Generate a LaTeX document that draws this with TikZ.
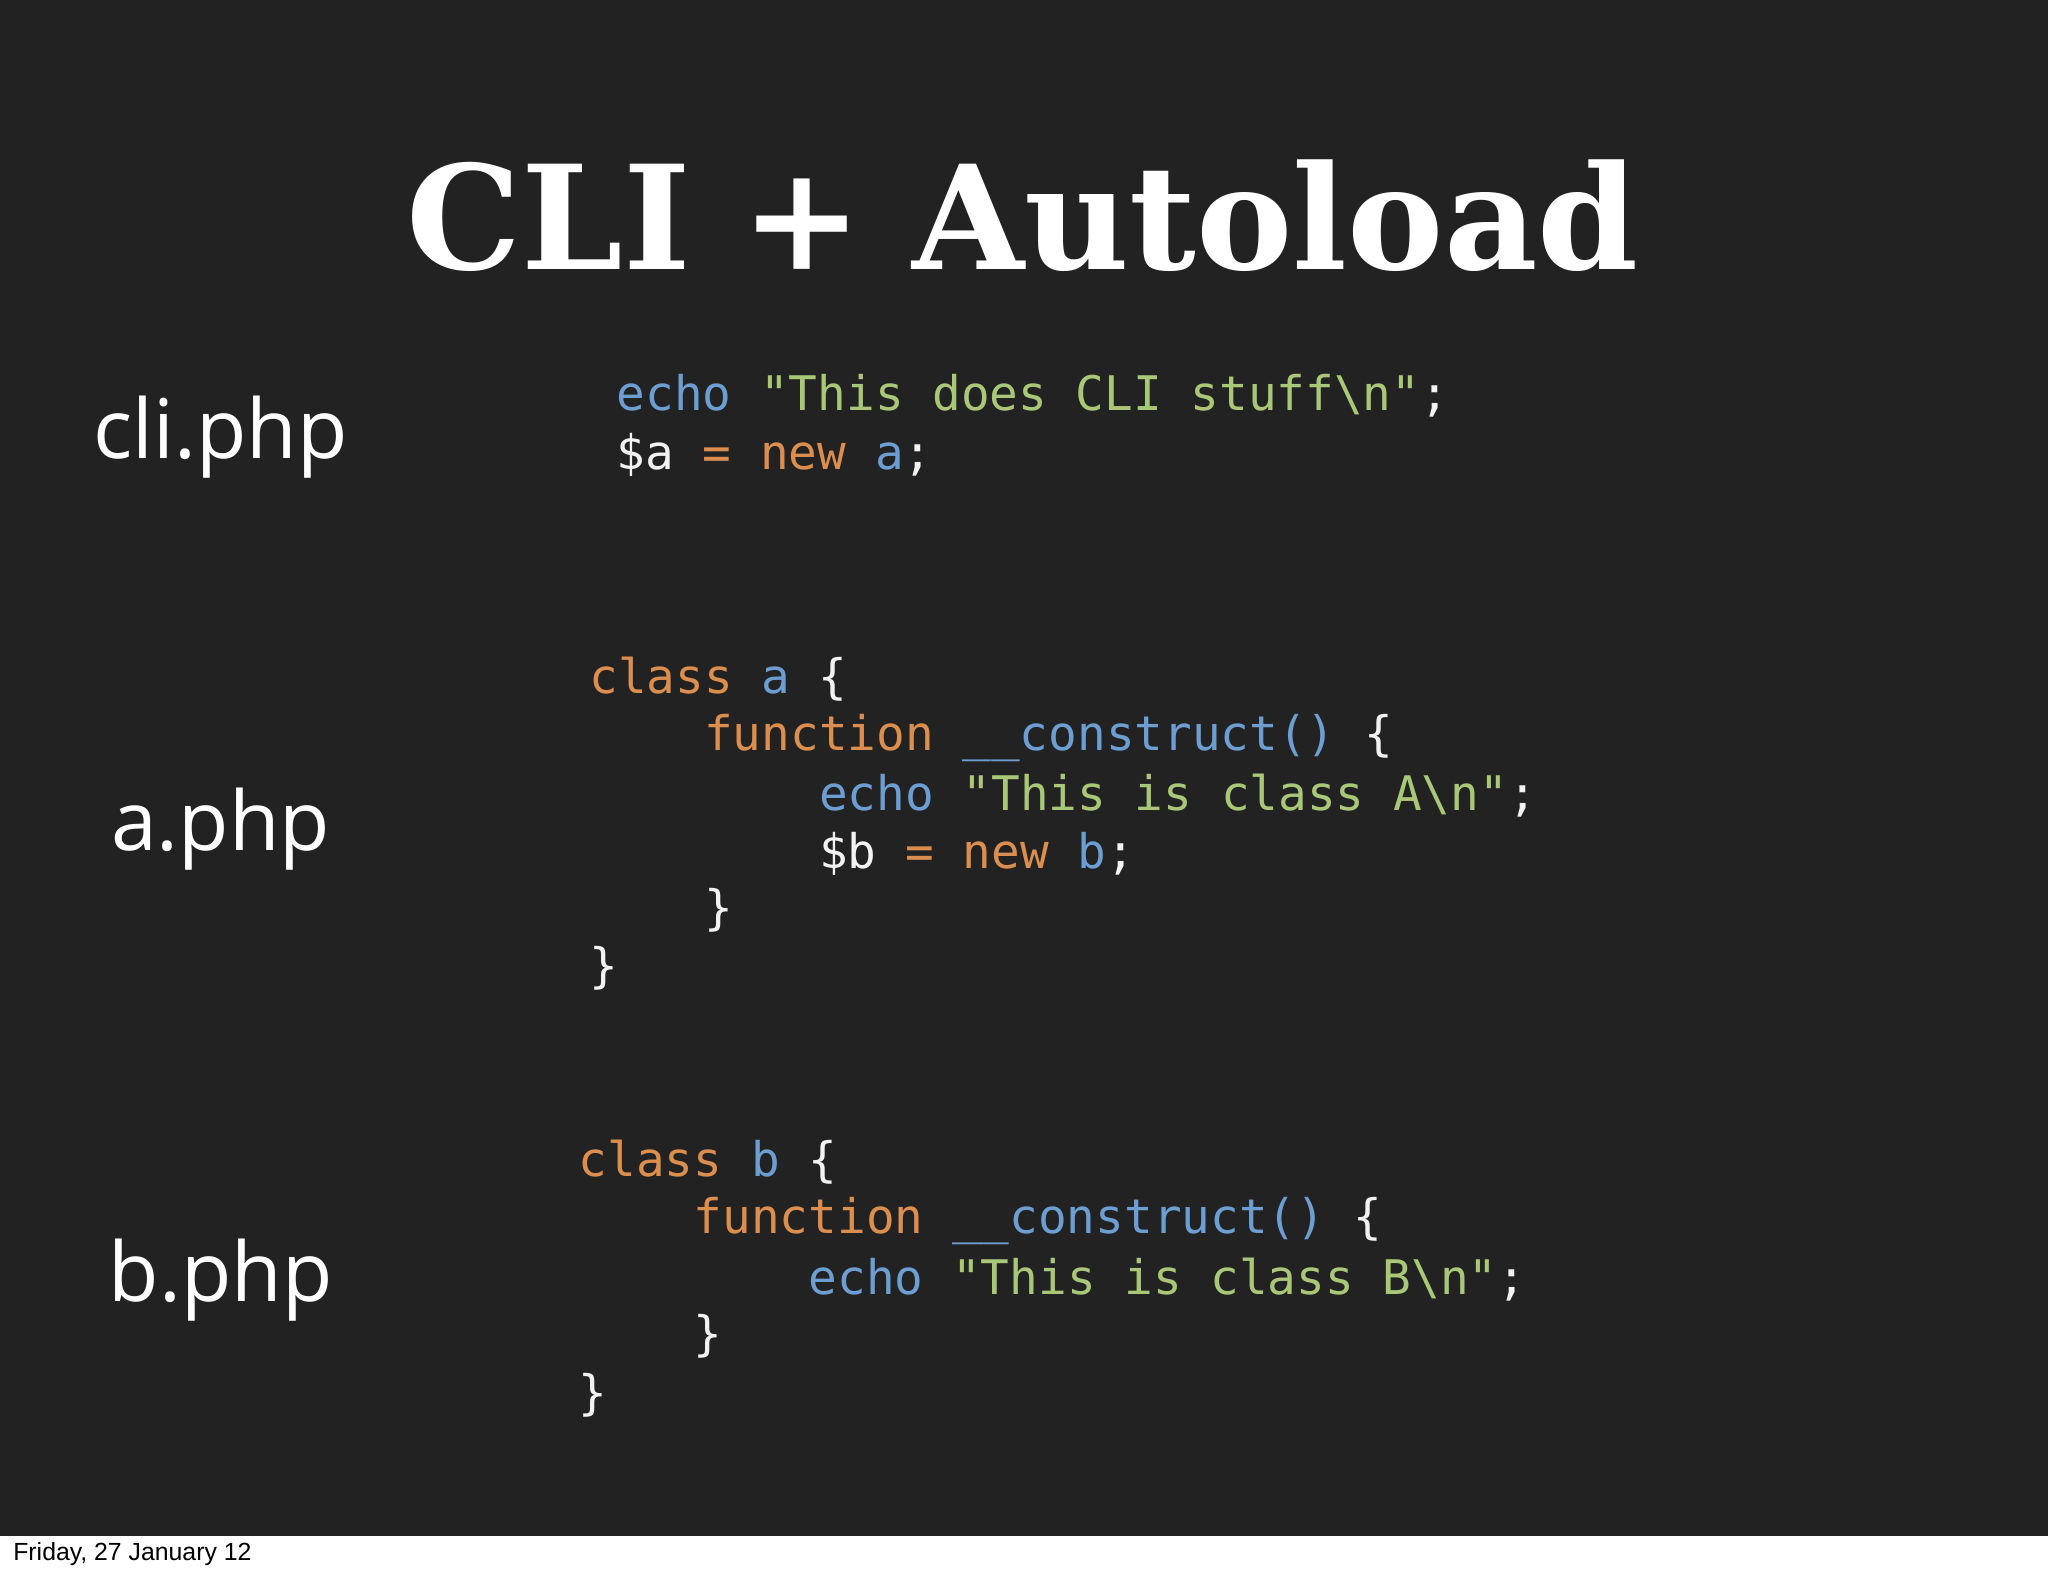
\documentclass[tikz,border=0pt]{standalone}
\usepackage{fontspec}
\setmainfont{Open Sans}
\newfontfamily\codef{DejaVu Sans Mono}
\newfontfamily\titlef{DejaVu Serif}
\newfontfamily\footf{Liberation Sans}
\definecolor{bgc}{HTML}{222223}
\definecolor{kw}{HTML}{DB8E4E}
\definecolor{bl}{HTML}{6C9ED2}
\definecolor{st}{HTML}{A9C877}
\definecolor{wt}{HTML}{F2F2F2}
\newcommand{\K}[1]{\textcolor{kw}{#1}}
\newcommand{\B}[1]{\textcolor{bl}{#1}}
\newcommand{\G}[1]{\textcolor{st}{#1}}
\tikzset{code/.style={anchor=west,inner sep=0,text=wt,font=\codef\fontsize{36.5}{40}\selectfont},
lab/.style={text=white,inner sep=0,font=\fontsize{63}{66}\selectfont}}
\begin{document}
\begin{tikzpicture}[x=1pt,y=-1pt]
\useasboundingbox (0,0) rectangle (1568,1206);
\fill[white] (0,0) rectangle (1568,1206);
\fill[bgc] (0,0) rectangle (1568,1176);
\node[inner sep=0,text=white] (title) at (783,165) {\resizebox{943pt}{!}{\titlef\bfseries CLI + Autoload}};
\node[lab] (l1) at (169,335) {cli.php};
\node[lab] (l2) at (169,635) {a.php};
\node[lab] (l3) at (169,980) {b.php};
\node[code] (c1) at (472,303) {\B{echo} \G{"This does CLI stuff\textbackslash n"};};
\node[code] (c2) at (472,348) {\$a \K{=} \K{new} \B{a};};
\node[code] (a1) at (451,520) {\K{class} \B{a} \{};
\node[code] (a2) at (539,565) {\K{function} \B{\_\_construct()} \{};
\node[code] (a3) at (627,609) {\B{echo} \G{"This is class A\textbackslash n"};};
\node[code] (a4) at (627,654) {\$b \K{=} \K{new} \B{b};};
\node[code] (a5) at (539,697) {\}};
\node[code] (a6) at (451,741) {\}};
\node[code] (b1) at (443,890) {\K{class} \B{b} \{};
\node[code] (b2) at (531,935) {\K{function} \B{\_\_construct()} \{};
\node[code] (b3) at (619,980) {\B{echo} \G{"This is class B\textbackslash n"};};
\node[code] (b4) at (531,1023) {\}};
\node[code] (b5) at (443,1068) {\}};
\node[anchor=west,inner sep=0,font=\footf\fontsize{19}{21}\selectfont] (foot) at (10,1190) {Friday, 27 January 12};
\end{tikzpicture}
\end{document}
